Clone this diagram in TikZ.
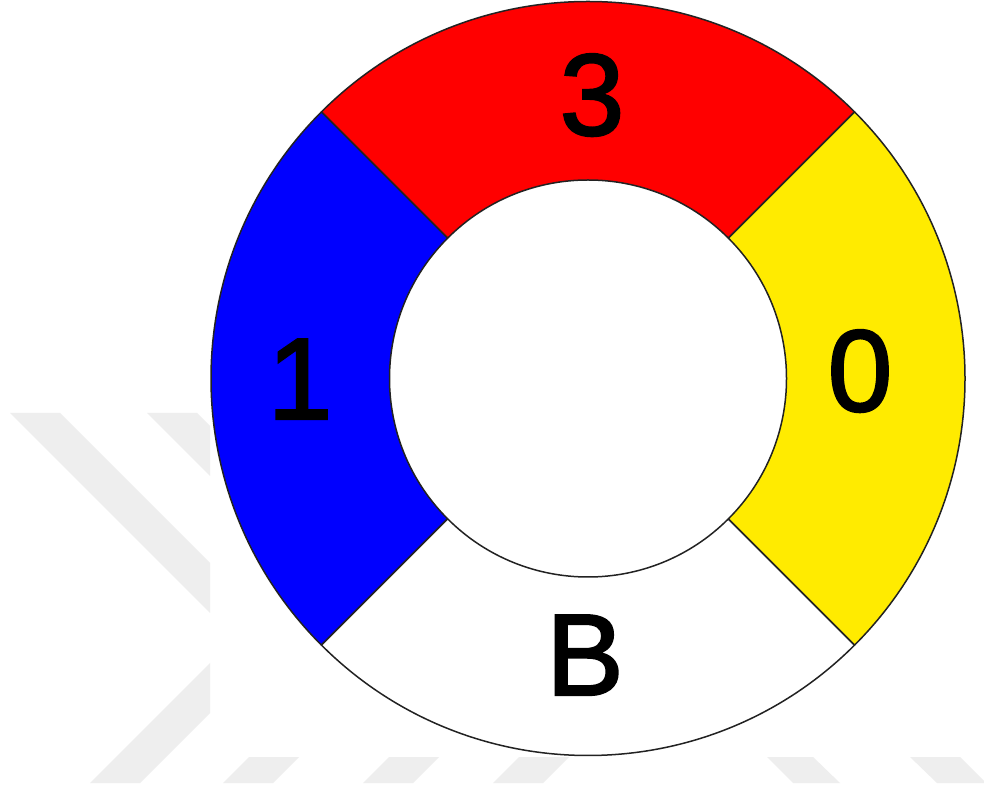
\documentclass[tikz,border=0pt]{standalone}
\usepackage{fontspec}
\setmainfont{Liberation Sans}
\newfontfamily\lblfont{Liberation Sans}[FakeBold=2]
\usetikzlibrary{calc}
\definecolor{wm}{RGB}{238,238,238}
\definecolor{ringred}{RGB}{255,0,0}
\definecolor{ringblue}{RGB}{0,0,255}
\definecolor{ringyellow}{RGB}{255,235,0}
\definecolor{edge}{RGB}{34,34,34}
\begin{document}
\begin{tikzpicture}[x=1pt,y=1pt,
  sector/.style={draw=edge,line width=1.5pt,line join=round},
  lbl/.style={inner sep=0pt,anchor=base,font=\lblfont\fontsize{116}{116}\selectfont},
  wmark/.style={fill=wm,draw=none}]
\useasboundingbox (0,0) rectangle (984,789);
\fill[white] (0,0) rectangle (984,789);
% faint watermark pieces
\fill[wmark] (10,376) -- (60,376) -- (210,226) -- (210,176) -- cycle;
\fill[wmark] (147,376) -- (197,376) -- (210,363) -- (210,313) -- cycle;
\fill[wmark] (90,6) -- (140,6) -- (210,76) -- (210,126) -- cycle;
\fill[wmark] (223,6) -- (273,6) -- (299,32) -- (249,32) -- cycle;
\fill[wmark] (363,6) -- (413,6) -- (439,32) -- (389,32) -- cycle;
\fill[wmark] (493,6) -- (543,6) -- (569,32) -- (519,32) -- cycle;
\fill[wmark] (767,32) -- (813,32) -- (840,6) -- (793,6) -- cycle;
\fill[wmark] (910,32) -- (960,32) -- (984,8) -- (984,6) -- (937,6) -- cycle;
% ring
\coordinate (c) at (588,410.5);
\def\Ro{377}
\def\Ri{198.5}
\draw[sector,fill=ringred] ($(c)+(45:\Ro)$) arc[start angle=45,end angle=135,radius=\Ro] -- ($(c)+(135:\Ri)$) arc[start angle=135,end angle=45,radius=\Ri] -- cycle;
\draw[sector,fill=ringblue] ($(c)+(135:\Ro)$) arc[start angle=135,end angle=225,radius=\Ro] -- ($(c)+(225:\Ri)$) arc[start angle=225,end angle=135,radius=\Ri] -- cycle;
\draw[sector,fill=white] ($(c)+(225:\Ro)$) arc[start angle=225,end angle=315,radius=\Ro] -- ($(c)+(315:\Ri)$) arc[start angle=315,end angle=225,radius=\Ri] -- cycle;
\draw[sector,fill=ringyellow] ($(c)+(-45:\Ro)$) arc[start angle=-45,end angle=45,radius=\Ro] -- ($(c)+(45:\Ri)$) arc[start angle=45,end angle=-45,radius=\Ri] -- cycle;
% labels
\node[lbl] (three) at (592,654) {3};
\node[lbl] (one) at (300,370) {1};
\node[lbl] (zero) at (860,378) {0};
\node[lbl] (bee) at (585,94) {B};
\end{tikzpicture}
\end{document}
